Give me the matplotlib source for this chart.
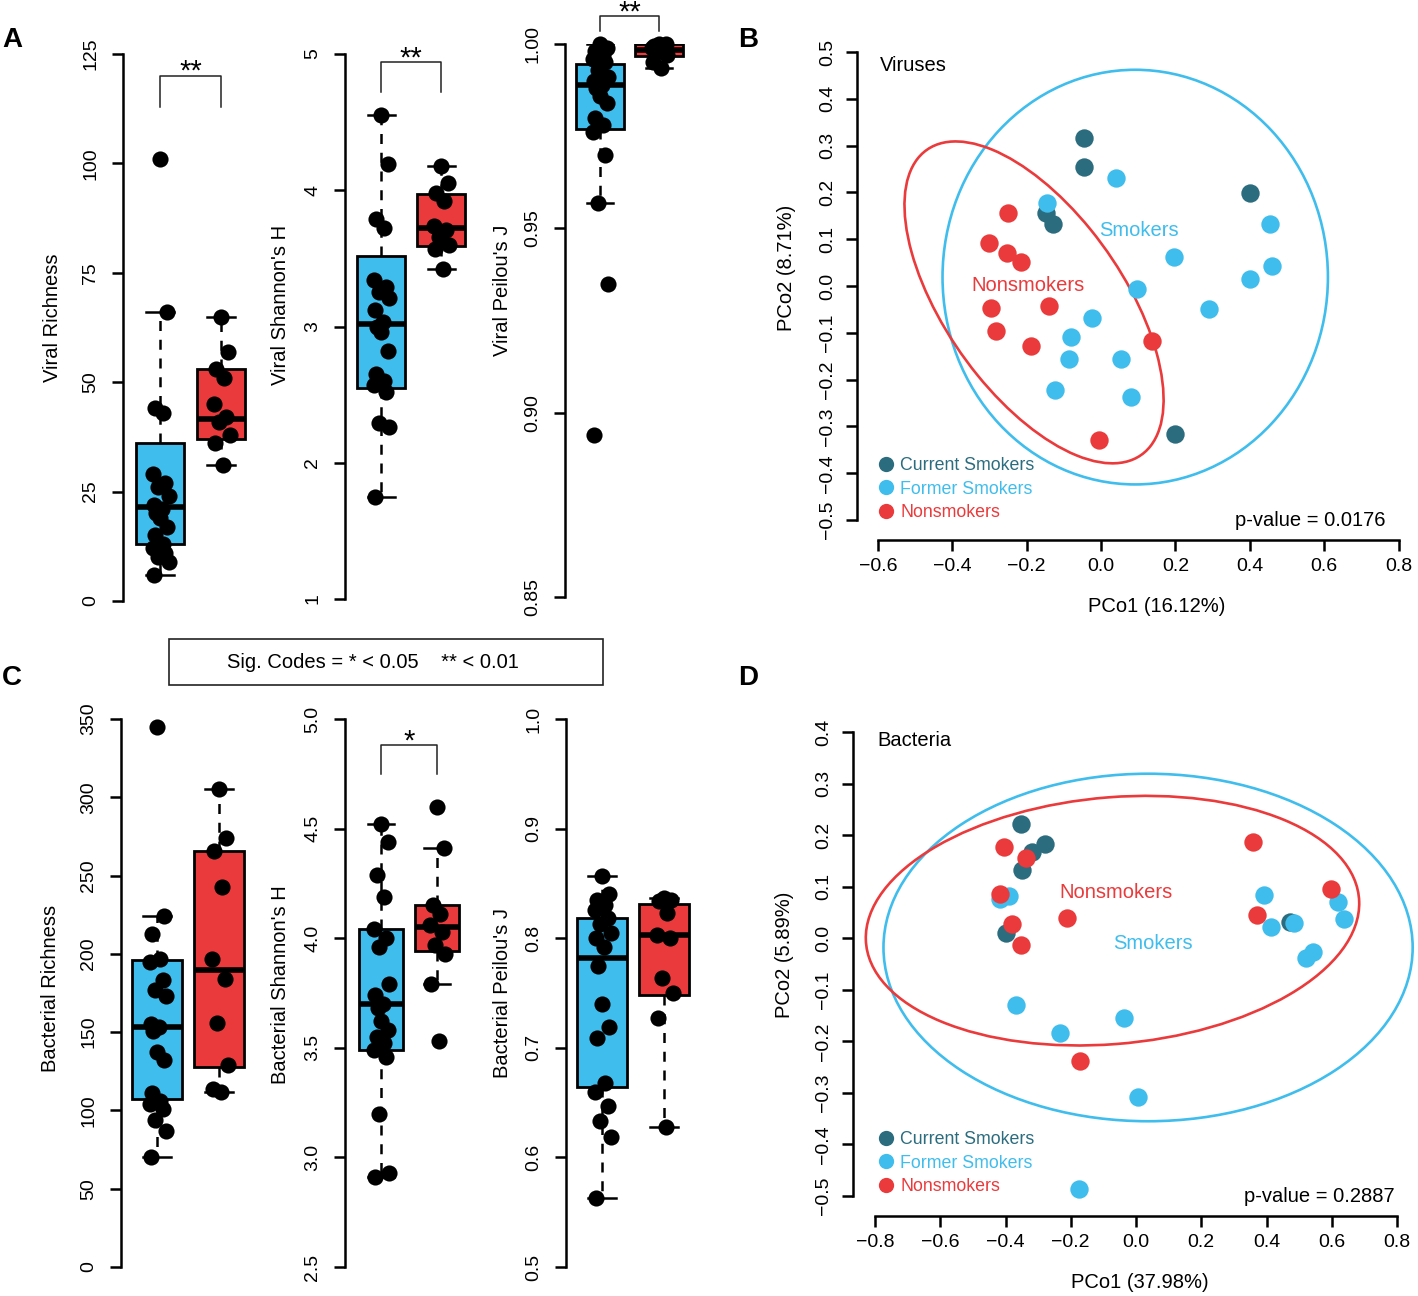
import matplotlib
matplotlib.use("Agg")
import matplotlib.pyplot as plt
from matplotlib.lines import Line2D
from matplotlib.patches import Ellipse, Rectangle

plt.rcParams["font.family"] = ["Liberation Sans", "DejaVu Sans"]

W, H = 1418, 1296
BLUE = "#3fbdec"
RED = "#ea3a3b"
TEAL = "#2b6c7e"
M = "\u2212"

# ---------------- data ----------------
# A: viral alpha diversity (smokers = blue, nonsmokers = red)
vir_rich_smk = [101, 66, 44, 43, 29, 27, 26, 24, 22, 21, 20, 19, 17, 15, 13, 12, 11, 10, 9, 6]
vir_rich_non = [65, 57, 53, 51, 45, 42, 41, 38, 36, 31]
vir_rich_box = [dict(whislo=6, q1=13, med=21.5, q3=36, whishi=66, fliers=[]),
                dict(whislo=31, q1=37, med=41.5, q3=53, whishi=65, fliers=[])]

vir_shan_smk = [4.55, 4.19, 3.79, 3.72, 3.34, 3.29, 3.25, 3.21, 3.12, 3.03,
                3.0, 2.96, 2.82, 2.65, 2.60, 2.57, 2.52, 2.29, 2.26, 1.75]
vir_shan_non = [4.18, 4.05, 3.98, 3.92, 3.74, 3.71, 3.66, 3.60, 3.57, 3.42]
vir_shan_box = [dict(whislo=1.75, q1=2.55, med=3.02, q3=3.52, whishi=4.55, fliers=[]),
                dict(whislo=3.42, q1=3.59, med=3.72, q3=3.97, whishi=4.18, fliers=[])]

vir_piel_smk = [1.000, 0.999, 0.998, 0.997, 0.996, 0.995, 0.993, 0.991, 0.990, 0.989,
                0.988, 0.986, 0.984, 0.980, 0.978, 0.976, 0.970, 0.957, 0.935, 0.894]
vir_piel_non = [1.000, 1.000, 0.9995, 0.999, 0.999, 0.998, 0.998, 0.997, 0.995, 0.9935]
vir_piel_box = [dict(whislo=0.957, q1=0.977, med=0.989, q3=0.9945, whishi=1.0, fliers=[]),
                dict(whislo=0.9935, q1=0.9968, med=0.9985, q3=1.0, whishi=1.0, fliers=[])]

# C: bacterial alpha diversity
bac_rich_smk = [345, 224, 213, 197, 195, 183, 177, 173, 155, 153,
                151, 137, 132, 111, 106, 104, 101, 94, 87, 70]
bac_rich_non = [305, 274, 266, 243, 197, 184, 156, 129, 114, 112]
bac_rich_box = [dict(whislo=70, q1=107, med=153, q3=196, whishi=224, fliers=[]),
                dict(whislo=112, q1=128, med=190, q3=266, whishi=305, fliers=[])]

bac_shan_smk = [4.52, 4.44, 4.29, 4.19, 4.04, 4.00, 3.96, 3.79, 3.74, 3.70,
                3.68, 3.62, 3.58, 3.55, 3.52, 3.49, 3.46, 3.20, 2.93, 2.91]
bac_shan_non = [4.60, 4.41, 4.15, 4.11, 4.06, 4.03, 3.97, 3.93, 3.79, 3.53]
bac_shan_box = [dict(whislo=2.91, q1=3.49, med=3.70, q3=4.04, whishi=4.52, fliers=[]),
                dict(whislo=3.79, q1=3.94, med=4.05, q3=4.15, whishi=4.41, fliers=[])]

bac_piel_smk = [0.857, 0.840, 0.835, 0.830, 0.826, 0.818, 0.813, 0.805, 0.800, 0.792,
                0.775, 0.740, 0.719, 0.709, 0.668, 0.660, 0.647, 0.633, 0.619, 0.563]
bac_piel_non = [0.837, 0.835, 0.834, 0.823, 0.803, 0.800, 0.764, 0.750, 0.727, 0.628]
bac_piel_box = [dict(whislo=0.563, q1=0.664, med=0.782, q3=0.818, whishi=0.857, fliers=[]),
                dict(whislo=0.628, q1=0.748, med=0.803, q3=0.831, whishi=0.837, fliers=[])]

# B: viral PCoA
vir_cur_x = [-0.047, -0.047, -0.149, -0.129, 0.401, 0.199]
vir_cur_y = [0.317, 0.254, 0.155, 0.133, 0.198, -0.317]
vir_for_x = [0.039, -0.144, 0.195, 0.097, 0.455, 0.461, 0.401, 0.289, -0.023, -0.081,
             -0.086, 0.055, -0.124, 0.080]
vir_for_y = [0.231, 0.178, 0.061, -0.007, 0.133, 0.042, 0.015, -0.050, -0.068, -0.110,
             -0.156, -0.156, -0.223, -0.238]
vir_non_x = [-0.250, -0.302, -0.252, -0.215, -0.296, -0.140, -0.281, -0.187, 0.136, -0.006]
vir_non_y = [0.156, 0.091, 0.070, 0.052, -0.047, -0.042, -0.097, -0.128, -0.118, -0.328]
# ellipses: centre x, centre y, width, height, angle
vir_ell_smk = [0.092, 0.019, 1.036, 0.886, 0]
vir_ell_non = [-0.180, -0.035, 0.877, 0.435, -44.4]

# D: bacterial PCoA
bac_cur_x = [-0.351, -0.280, -0.318, -0.349, -0.400, 0.471]
bac_cur_y = [0.221, 0.182, 0.168, 0.133, 0.011, 0.032]
bac_for_x = [-0.389, -0.417, -0.367, -0.234, -0.038, 0.006, -0.174, 0.392, 0.415, 0.484,
             0.520, 0.541, 0.619, 0.638]
bac_for_y = [0.081, 0.076, -0.129, -0.183, -0.155, -0.308, -0.486, 0.083, 0.022, 0.029,
             -0.038, -0.027, 0.071, 0.038]
bac_non_x = [-0.405, -0.337, -0.417, -0.381, -0.353, -0.211, -0.173, 0.358, 0.370, 0.597]
bac_non_y = [0.177, 0.155, 0.085, 0.028, -0.013, 0.039, -0.239, 0.186, 0.045, 0.096]
bac_ell_smk = [0.037, -0.018, 1.622, 0.674, 0]
bac_ell_non = [-0.072, 0.034, 1.514, 0.479, 2.8]

legend_labels = ["Current Smokers", "Former Smokers", "Nonsmokers"]
legend_colors = [TEAL, BLUE, RED]

JIT = [0.0, 0.12, -0.08, 0.05, -0.12, 0.09, -0.03, 0.14, -0.1, 0.03, -0.06]

fig = plt.figure(figsize=(W / 100, H / 100), dpi=100)


def fx(x):
    return x / W


def fy(y):
    return 1 - y / H


def box_panel(spine, cen, ytop, ybot, lim, ticks, labels, stats, groups,
              ylabel, lab_xy, sig=None):
    unit = cen[1] - cen[0]
    width = 150
    ax = fig.add_axes([fx(spine), fy(ybot), width / W, (ybot - ytop) / H])
    ax.set_xlim(1 - (cen[0] - spine) / unit, 1 + (spine + width - cen[0]) / unit)
    ax.set_ylim(*lim)
    ax.patch.set_visible(False)
    bp = ax.bxp(stats, positions=[1, 2], widths=0.8, capwidths=0.45,
                patch_artist=True, showfliers=False,
                boxprops=dict(linewidth=2.0, edgecolor="black"),
                medianprops=dict(color="black", linewidth=4.0, solid_capstyle="butt"),
                whiskerprops=dict(color="black", linewidth=1.8, linestyle=(0, (4, 3.5))),
                capprops=dict(color="black", linewidth=1.8))
    for patch, col in zip(bp["boxes"], [BLUE, RED]):
        patch.set_facecolor(col)
    for i, vals in enumerate(groups):
        xs = [i + 1 + JIT[k % len(JIT)] for k in range(len(vals))]
        ax.scatter(xs, vals, s=135, color="black", linewidths=0, zorder=4, clip_on=False)
    for s in ["top", "right", "bottom"]:
        ax.spines[s].set_visible(False)
    ax.spines["left"].set_linewidth(1.8)
    ax.tick_params(axis="x", bottom=False, labelbottom=False)
    ax.set_yticks(ticks)
    ax.set_yticklabels(labels)
    ax.tick_params(axis="y", length=8, width=1.8, pad=9, labelsize=14)
    for lb in ax.get_yticklabels():
        lb.set_rotation(90)
        lb.set_va("center")
    fig.text(fx(lab_xy[0]), fy(lab_xy[1]), ylabel, rotation=90, ha="center",
             va="center", fontsize=14.5)
    if sig is not None:
        top, leg, stars = sig
        ax.plot([1, 1, 2, 2], [leg, top, top, leg], color="#222222", lw=1.1,
                clip_on=False)
        ax.annotate(stars, (1.5, top), xytext=(0, -3), textcoords="offset points",
                    ha="center", va="baseline", fontsize=21, annotation_clip=False)
    return ax


def pcoa_panel(box, x0, xu, y0, yu, xticks, yticks, groups, ells, texts, pval, leg_xy,
               xlabel, xlab_xy, ylabel, ylab_xy):
    l, t, r, b = box
    ax = fig.add_axes([fx(l), fy(b), (r - l) / W, (b - t) / H])
    ax.set_xlim((l - x0) / xu, (r - x0) / xu)
    ax.set_ylim((y0 - b) / yu, (y0 - t) / yu)
    ax.patch.set_visible(False)
    for cx, cy, w, h, ang, col in ells:
        ax.add_patch(Ellipse((cx, cy), w, h, angle=ang, fill=False, edgecolor=col,
                             lw=1.9, clip_on=False, zorder=2))
    for xs, ys, col in groups:
        ax.scatter(xs, ys, s=175, color=col, linewidths=0, zorder=3, clip_on=False)
    for s in ["top", "right"]:
        ax.spines[s].set_visible(False)
    ax.spines["left"].set_bounds(yticks[0], yticks[-1])
    ax.spines["bottom"].set_bounds(xticks[0], xticks[-1])
    ax.spines["left"].set_linewidth(1.8)
    ax.spines["bottom"].set_linewidth(1.8)
    ax.set_xticks(xticks)
    ax.set_xticklabels([f"{v:.1f}".replace("-", M) for v in xticks])
    ax.set_yticks(yticks)
    ax.set_yticklabels([f"{v:.1f}".replace("-", M) for v in yticks])
    ax.tick_params(length=8, width=1.8, labelsize=14)
    ax.tick_params(axis="x", pad=5)
    ax.tick_params(axis="y", pad=7)
    for lb in ax.get_yticklabels():
        lb.set_rotation(90)
        lb.set_va("center")
    for tx, ty, s, col, ha in texts:
        ax.text(tx, ty, s, color=col, fontsize=14.5, ha=ha, va="center", zorder=5)
    ax.text(pval[0], pval[1], pval[2], fontsize=14.5, ha="right", va="center")
    handles = [Line2D([], [], marker="o", ls="none", markersize=11,
                      markerfacecolor=c, markeredgewidth=0) for c in legend_colors]
    ax.legend(handles, legend_labels, loc="center left",
              bbox_to_anchor=(fx(leg_xy[0]), fy(leg_xy[1])),
              bbox_transform=fig.transFigure, frameon=False, fontsize=12.8,
              labelcolor=legend_colors, handlelength=0.8, handletextpad=0.4,
              labelspacing=0.36, borderpad=0, borderaxespad=0)
    fig.text(fx(xlab_xy[0]), fy(xlab_xy[1]), xlabel, ha="center", va="center", fontsize=14.5)
    fig.text(fx(ylab_xy[0]), fy(ylab_xy[1]), ylabel, rotation=90, ha="center",
             va="center", fontsize=14.5)
    return ax


# ---------- panel A ----------
box_panel(123, (160, 221), 54, 601, (0, 125), [0, 25, 50, 75, 100, 125],
          ["0", "25", "50", "75", "100", "125"], vir_rich_box,
          [vir_rich_smk, vir_rich_non], "Viral Richness", (52, 318), sig=(120, 113, "**"))
box_panel(345, (381, 441), 54, 599, (1, 5), [1, 2, 3, 4, 5],
          ["1", "2", "3", "4", "5"], vir_shan_box,
          [vir_shan_smk, vir_shan_non], "Viral Shannon's H", (281, 305),
          sig=(4.94, 4.72, "**"))
box_panel(565, (600, 659), 44, 597, (0.85, 1.0), [0.85, 0.90, 0.95, 1.00],
          ["0.85", "0.90", "0.95", "1.00"], vir_piel_box,
          [vir_piel_smk, vir_piel_non], "Viral Peilou's J", (502, 290),
          sig=(1.0075, 1.0035, "**"))

# ---------- panel C ----------
box_panel(121, (157, 219), 719, 1267, (0, 350), [0, 50, 100, 150, 200, 250, 300, 350],
          ["0", "50", "100", "150", "200", "250", "300", "350"], bac_rich_box,
          [bac_rich_smk, bac_rich_non], "Bacterial Richness", (51, 988))
box_panel(345, (381, 437), 719, 1267, (2.5, 5.0), [2.5, 3.0, 3.5, 4.0, 4.5, 5.0],
          ["2.5", "3.0", "3.5", "4.0", "4.5", "5.0"], bac_shan_box,
          [bac_shan_smk, bac_shan_non], "Bacterial Shannon's H", (280, 985),
          sig=(4.88, 4.75, "*"))
box_panel(566, (602, 664), 719, 1267, (0.5, 1.0), [0.5, 0.6, 0.7, 0.8, 0.9, 1.0],
          ["0.5", "0.6", "0.7", "0.8", "0.9", "1.0"], bac_piel_box,
          [bac_piel_smk, bac_piel_non], "Bacterial Peilou's J", (503, 993))

# ---------- panel B ----------
pcoa_panel((857, 30, 1415, 540), 1101, 372, 286, 468,
           [-0.6, -0.4, -0.2, 0.0, 0.2, 0.4, 0.6, 0.8],
           [-0.5, -0.4, -0.3, -0.2, -0.1, 0.0, 0.1, 0.2, 0.3, 0.4, 0.5],
           [(vir_cur_x, vir_cur_y, TEAL), (vir_for_x, vir_for_y, BLUE),
            (vir_non_x, vir_non_y, RED)],
           [vir_ell_smk + [BLUE], vir_ell_non + [RED]],
           [(-0.594, 0.472, "Viruses", "black", "left"),
            (0.102, 0.118, "Smokers", BLUE, "center"),
            (-0.196, 0.002, "Nonsmokers", RED, "center")],
           (0.766, -0.5, "p-value = 0.0176"), (879, 489),
           "PCo1 (16.12%)", (1157, 606), "PCo2 (8.71%)", (787, 268))

# ---------- panel D ----------
pcoa_panel((853, 700, 1418, 1216), 1136, 326.25, 938.2, 515.6,
           [-0.8, -0.6, -0.4, -0.2, 0.0, 0.2, 0.4, 0.6, 0.8],
           [-0.5, -0.4, -0.3, -0.2, -0.1, 0.0, 0.1, 0.2, 0.3, 0.4],
           [(bac_cur_x, bac_cur_y, TEAL), (bac_for_x, bac_for_y, BLUE),
            (bac_non_x, bac_non_y, RED)],
           [bac_ell_smk + [BLUE], bac_ell_non + [RED]],
           [(-0.794, 0.384, "Bacteria", "black", "left"),
            (-0.061, 0.088, "Nonsmokers", RED, "center"),
            (0.052, -0.011, "Smokers", BLUE, "center")],
           (0.794, -0.5, "p-value = 0.2887"), (879, 1163),
           "PCo1 (37.98%)", (1140, 1282), "PCo2 (5.89%)", (785, 955))

# ---------- panel letters and significance key ----------
for letter, (px, py) in zip("ABCD", [(12, 40), (748, 40), (12, 678), (748, 678)]):
    fig.text(fx(px), fy(py), letter, fontsize=20, fontweight="bold", ha="center", va="center")

fig.patches.append(Rectangle((fx(169), fy(685)), (603 - 169) / W, (685 - 639) / H,
                             transform=fig.transFigure, fill=False, lw=1.2,
                             edgecolor="#222222"))
fig.text(fx(373), fy(662), "Sig. Codes = * < 0.05    ** < 0.01", fontsize=14.5,
         ha="center", va="center")

fig.savefig("out.png", dpi=100)
